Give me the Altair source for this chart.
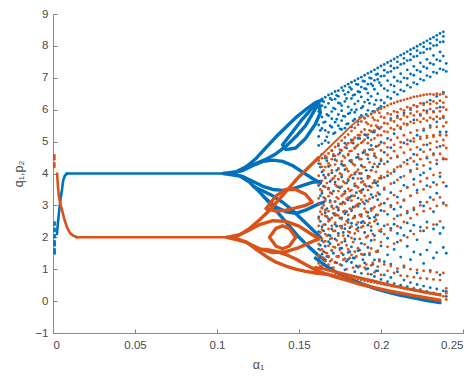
import altair as alt
import pandas as pd

BLUE = "#0072BD"
ORANGE = "#D95319"
FONT = "Liberation Sans"

# ---------------- line-like (dense) branches: (alpha values, y values, stroke width) ----------------
blue_curves = {
    "b_tr": ([0.0024, 0.0030, 0.0038, 0.0046, 0.0055, 0.0062, 0.0072, 0.0085],
             [2.10, 2.45, 2.85, 3.20, 3.50, 3.78, 3.93, 4.00], 2.6),
    "b_st": ([0.0085, 0.106], [4.00, 4.00], 2.4),
    "b_l1": ([0.104, 0.112, 0.118, 0.124, 0.130, 0.136, 0.142, 0.148, 0.154, 0.160, 0.164],
             [4.00, 4.06, 4.22, 4.48, 4.82, 5.15, 5.45, 5.75, 6.00, 6.22, 6.30], 3.4),
    "b_l2": ([0.118, 0.124, 0.130, 0.136, 0.142, 0.148, 0.154, 0.158, 0.162],
             [4.22, 4.32, 4.45, 4.62, 4.85, 5.15, 5.50, 5.85, 6.20], 3.4),
    "b_l3": ([0.140, 0.146, 0.152, 0.158, 0.162, 0.163, 0.160, 0.154, 0.148, 0.142, 0.140],
             [4.90, 5.30, 5.70, 6.05, 6.20, 5.90, 5.55, 5.10, 4.80, 4.75, 4.90], 3.4),
    "b_l4": ([0.108, 0.116, 0.122, 0.128, 0.134, 0.140, 0.146, 0.152, 0.158, 0.163],
             [4.00, 4.10, 4.25, 4.38, 4.42, 4.38, 4.25, 4.05, 3.85, 3.70], 3.4),
    "b_l5": ([0.108, 0.116, 0.122, 0.128, 0.134, 0.140, 0.146, 0.152, 0.158, 0.163],
             [4.00, 3.90, 3.75, 3.60, 3.50, 3.47, 3.52, 3.62, 3.72, 3.75], 3.4),
    "b_l6": ([0.104, 0.114, 0.120, 0.126, 0.132, 0.138, 0.144, 0.150, 0.156, 0.162, 0.166],
             [4.00, 3.92, 3.72, 3.42, 3.08, 2.72, 2.36, 2.00, 1.70, 1.42, 1.28], 3.4),
    "b_l7": ([0.122, 0.128, 0.134, 0.140, 0.146, 0.152, 0.158, 0.163],
             [3.60, 3.45, 3.30, 3.10, 2.85, 2.55, 2.25, 2.00], 3.4),
    "b_l8": ([0.130, 0.136, 0.142, 0.148, 0.154, 0.160, 0.165],
             [3.20, 2.95, 2.80, 2.75, 2.85, 3.00, 3.10], 3.4),
    "b_band": ([0.160, 0.166, 0.172, 0.180, 0.188, 0.196, 0.204, 0.212, 0.220, 0.228, 0.236],
               [1.35, 1.12, 0.92, 0.72, 0.55, 0.40, 0.28, 0.18, 0.10, 0.02, -0.05], 3.4),
}

orange_curves = {
    "o_tr": ([0.0025, 0.0030, 0.0035, 0.0045, 0.0055, 0.0070, 0.0085, 0.0104, 0.0125, 0.0146],
             [4.00, 3.60, 3.30, 3.05, 2.86, 2.55, 2.32, 2.13, 2.05, 2.00], 2.6),
    "o_st": ([0.0146, 0.108], [2.00, 2.00], 2.4),
    "o_l1": ([0.106, 0.114, 0.120, 0.126, 0.132, 0.138, 0.144, 0.150, 0.156, 0.162],
             [2.00, 2.08, 2.28, 2.55, 2.85, 3.20, 3.55, 3.90, 4.20, 4.50], 3.4),
    "o_arc": ([0.162, 0.168, 0.175, 0.182, 0.189],
              [4.50, 4.80, 5.15, 5.50, 5.80], 1.8),
    "o_l2": ([0.130, 0.136, 0.142, 0.148, 0.154, 0.158], [2.90, 3.30, 3.50, 3.50, 3.35, 3.10], 3.4),
    "o_l3": ([0.130, 0.136, 0.142, 0.148, 0.154, 0.158], [2.90, 2.82, 2.85, 2.92, 3.00, 3.10], 3.4),
    "o_l4": ([0.110, 0.118, 0.126, 0.134, 0.142, 0.150, 0.156, 0.162],
             [2.00, 2.18, 2.40, 2.52, 2.50, 2.35, 2.15, 1.95], 3.4),
    "o_l5": ([0.110, 0.118, 0.126, 0.134, 0.142, 0.150, 0.156, 0.162],
             [2.00, 1.84, 1.64, 1.52, 1.55, 1.68, 1.82, 1.95], 3.4),
    "o_l6": ([0.106, 0.118, 0.124, 0.130, 0.136, 0.142, 0.148, 0.154, 0.160, 0.166],
             [2.00, 1.85, 1.62, 1.40, 1.22, 1.10, 1.00, 0.93, 0.88, 0.85], 3.4),
    "o_l7": ([0.124, 0.130, 0.136, 0.142, 0.148, 0.154, 0.160, 0.165],
             [1.62, 1.62, 1.56, 1.46, 1.32, 1.15, 0.98, 0.88], 3.4),
    "o_l8": ([0.132, 0.136, 0.140, 0.144, 0.148, 0.144, 0.140, 0.136, 0.132],
             [2.00, 2.28, 2.36, 2.28, 2.00, 1.72, 1.64, 1.72, 2.00], 3.4),
    "o_band1": ([0.160, 0.166, 0.172, 0.180, 0.188, 0.196, 0.204, 0.212, 0.220, 0.228, 0.236],
                [0.92, 0.86, 0.76, 0.64, 0.52, 0.42, 0.33, 0.25, 0.17, 0.10, 0.03], 3.4),
    "o_band2": ([0.160, 0.166, 0.172, 0.180, 0.188, 0.196, 0.204, 0.212, 0.220, 0.228, 0.236],
                [1.05, 1.00, 0.92, 0.82, 0.72, 0.62, 0.52, 0.43, 0.35, 0.27, 0.20], 3.0),
}

# ---------------- scattered (chaotic) samples, one column per alpha ----------------
chaos_alpha = [0.162, 0.164, 0.166, 0.168, 0.170, 0.172, 0.174, 0.176, 0.178, 0.180,
               0.182, 0.184, 0.186, 0.188, 0.190, 0.192, 0.194, 0.196, 0.198, 0.200,
               0.202, 0.204, 0.206, 0.208, 0.210, 0.212, 0.214, 0.216, 0.218, 0.220,
               0.222, 0.224, 0.226, 0.228, 0.230, 0.232, 0.234, 0.236, 0.238]

blue_chaos = [
    [6.27, 5.94, 5.52, 5.16, 4.88, 4.31, 3.62, 3.07, 2.64, 2.18, 1.63, 1.31],
    [6.13, 6.34, 5.41, 5.77, 4.93, 4.05, 4.60, 2.93, 3.38, 1.47, 2.33, 1.90],
    [5.62, 6.39, 6.08, 5.03, 5.35, 3.21, 4.48, 2.77, 3.86, 1.72, 2.40, 1.12],
    [6.46, 5.81, 6.20, 5.29, 4.97, 4.22, 3.54, 2.58, 3.95, 2.07, 1.38, 1.86],
    [6.31, 5.72, 6.50, 5.45, 5.94, 3.37, 4.71, 2.98, 4.02, 2.26, 1.58, 1.03],
    [6.57, 6.02, 5.28, 6.33, 5.61, 4.43, 3.12, 3.73, 2.69, 1.95, 1.22, 2.41],
    [6.21, 6.60, 5.85, 5.50, 6.42, 3.58, 4.87, 2.85, 4.15, 1.41, 2.12, 1.77],
    [6.69, 5.66, 6.13, 5.97, 5.38, 4.29, 3.05, 3.89, 2.61, 2.35, 1.12, 1.66],
    [6.48, 6.74, 5.79, 5.42, 6.26, 4.95, 3.44, 2.74, 4.12, 1.88, 2.27, 0.98],
    [6.80, 6.09, 5.56, 6.55, 5.87, 3.77, 4.58, 3.17, 2.55, 1.52, 2.04, 1.31],
    [6.35, 6.86, 5.99, 5.46, 6.64, 4.36, 3.30, 5.05, 2.83, 2.44, 1.21, 1.70],
    [6.91, 6.18, 5.70, 6.47, 5.92, 3.61, 4.79, 2.66, 3.98, 1.35, 1.94, 0.92],
    [6.57, 6.97, 6.27, 5.63, 6.79, 4.51, 3.23, 5.10, 2.97, 2.30, 1.58, 1.06],
    [7.02, 6.40, 5.82, 6.71, 6.05, 3.84, 4.25, 2.71, 3.46, 1.81, 2.46, 0.87],
    [6.66, 7.08, 6.24, 5.74, 6.89, 4.68, 3.05, 5.22, 3.65, 1.46, 2.15, 1.20],
    [7.14, 6.52, 5.98, 6.80, 6.31, 3.92, 4.46, 2.78, 5.12, 2.38, 1.02, 1.68],
    [6.81, 7.19, 6.42, 5.87, 6.98, 4.88, 3.34, 4.10, 2.90, 1.90, 0.84, 2.21],
    [7.25, 6.64, 6.16, 6.92, 5.95, 3.72, 5.30, 4.55, 2.63, 1.29, 2.05, 0.77],
    [6.95, 7.31, 6.50, 6.02, 7.12, 4.21, 3.18, 5.45, 3.62, 2.42, 1.55, 0.95],
    [7.37, 6.76, 6.30, 7.05, 6.10, 4.98, 3.85, 2.84, 4.40, 1.73, 0.68, 2.18],
    [7.06, 7.42, 6.66, 6.21, 7.24, 3.50, 5.58, 4.66, 3.07, 1.24, 2.36, 0.82],
    [7.48, 6.91, 6.40, 7.17, 6.60, 4.37, 5.10, 2.72, 3.93, 1.97, 0.61, 1.45],
    [7.20, 7.53, 6.78, 6.35, 7.37, 5.72, 3.40, 4.81, 3.00, 2.28, 1.16, 0.74],
    [7.59, 7.02, 6.55, 7.30, 6.74, 4.06, 5.25, 2.88, 3.71, 1.62, 2.41, 0.55],
    [7.32, 7.65, 6.90, 6.48, 7.50, 5.80, 4.52, 3.26, 2.67, 1.85, 0.92, 2.12],
    [7.71, 7.13, 6.62, 7.42, 6.87, 3.88, 5.40, 4.24, 2.95, 1.38, 2.30, 0.50],
    [7.45, 7.76, 7.00, 6.58, 7.61, 4.96, 3.15, 5.90, 3.63, 2.06, 1.10, 0.66],
    [7.82, 7.25, 6.77, 7.54, 6.98, 4.42, 3.57, 5.55, 2.76, 1.72, 2.45, 0.45],
    [7.56, 7.88, 7.12, 6.70, 7.74, 6.00, 4.10, 3.30, 5.02, 1.30, 2.20, 0.58],
    [7.93, 7.36, 6.85, 7.66, 7.08, 3.82, 5.68, 4.60, 2.86, 2.38, 1.54, 0.40],
    [7.68, 7.99, 7.24, 6.80, 7.85, 5.20, 3.48, 6.10, 4.28, 1.92, 0.88, 0.52],
    [8.05, 7.47, 6.96, 7.78, 7.19, 4.75, 3.10, 5.82, 3.95, 1.46, 2.32, 0.36],
    [7.79, 8.10, 7.35, 6.92, 7.97, 5.35, 4.02, 6.20, 2.98, 2.20, 1.18, 0.47],
    [8.16, 7.58, 7.07, 7.90, 7.30, 4.48, 3.62, 5.96, 4.90, 1.60, 2.48, 0.30],
    [7.91, 8.22, 7.46, 7.03, 8.08, 5.50, 3.25, 6.30, 4.15, 1.84, 0.96, 0.42],
    [8.27, 7.70, 7.18, 8.01, 7.42, 4.62, 5.95, 3.72, 2.80, 2.26, 1.35, 0.26],
    [8.02, 8.33, 7.57, 7.15, 8.19, 5.62, 4.30, 6.42, 3.38, 1.52, 2.40, 0.38],
    [8.39, 7.81, 7.28, 8.12, 7.53, 4.85, 3.90, 6.08, 5.30, 2.12, 0.82, 0.22],
    [8.13, 8.44, 7.68, 7.25, 8.30, 5.75, 4.45, 6.55, 3.08, 1.68, 2.30, 0.32],
]

orange_chaos = [
    [4.41, 3.93, 3.66, 3.22, 3.05, 2.58, 2.36, 2.01, 1.79, 1.43, 1.18, 0.93],
    [4.48, 4.21, 3.77, 3.45, 2.91, 2.72, 2.24, 1.96, 1.62, 1.37, 1.08, 0.90],
    [4.20, 4.55, 3.58, 3.88, 3.14, 2.67, 2.85, 2.10, 1.88, 1.52, 1.25, 0.87],
    [4.63, 4.32, 3.98, 3.51, 3.29, 2.82, 2.50, 2.26, 1.73, 1.41, 1.14, 0.85],
    [4.45, 4.72, 3.81, 4.10, 3.37, 2.95, 2.61, 2.36, 1.97, 1.60, 1.30, 0.83],
    [4.83, 4.28, 4.55, 3.66, 3.92, 3.12, 2.74, 2.20, 2.46, 1.68, 1.20, 0.81],
    [4.60, 4.93, 4.15, 3.82, 3.45, 3.21, 2.68, 2.92, 2.05, 1.77, 1.38, 0.80],
    [5.03, 4.38, 4.72, 3.96, 3.59, 3.04, 3.30, 2.57, 2.28, 1.84, 1.50, 0.78],
    [4.82, 5.13, 4.25, 4.50, 3.70, 3.38, 2.83, 3.06, 2.40, 1.95, 1.33, 0.76],
    [5.22, 4.61, 4.95, 4.07, 3.82, 3.24, 3.52, 2.70, 2.18, 2.46, 1.62, 0.74],
    [4.98, 5.33, 4.42, 4.71, 3.95, 3.48, 3.15, 2.88, 2.34, 1.98, 1.45, 0.72],
    [5.43, 4.80, 5.12, 4.26, 3.68, 4.02, 3.30, 2.62, 2.95, 2.12, 1.55, 0.70],
    [5.20, 5.53, 4.60, 4.90, 4.12, 3.56, 3.84, 3.05, 2.47, 2.20, 1.66, 0.68],
    [5.63, 4.96, 5.30, 4.45, 4.00, 3.72, 3.18, 3.40, 2.65, 2.31, 1.47, 0.66],
    [5.38, 5.73, 5.06, 4.72, 4.20, 3.66, 2.90, 3.30, 2.45, 1.78, 1.05, 0.64],
    [5.80, 5.22, 5.55, 4.58, 4.95, 3.85, 3.12, 2.66, 3.48, 2.04, 0.85, 0.62],
    [5.50, 5.86, 5.05, 4.75, 5.32, 4.10, 2.84, 3.57, 2.33, 1.65, 1.12, 0.60],
    [5.92, 5.35, 5.68, 4.62, 5.10, 3.78, 4.30, 2.95, 2.50, 1.92, 0.90, 0.58],
    [5.66, 5.98, 5.20, 4.86, 5.44, 4.22, 3.40, 3.75, 2.70, 1.58, 1.08, 0.56],
    [6.03, 5.45, 5.78, 4.72, 5.20, 3.92, 4.45, 3.05, 2.25, 1.85, 0.82, 0.54],
    [5.75, 6.08, 5.32, 4.95, 5.58, 4.30, 3.55, 2.82, 3.88, 2.10, 1.15, 0.52],
    [6.13, 5.56, 5.88, 4.82, 5.30, 4.05, 4.58, 3.20, 2.40, 1.70, 0.95, 0.50],
    [5.85, 6.18, 5.42, 5.05, 5.67, 4.48, 3.68, 2.95, 4.00, 2.22, 1.10, 0.48],
    [6.21, 5.63, 5.95, 4.90, 5.38, 4.12, 4.70, 3.32, 2.58, 1.80, 0.88, 0.46],
    [5.92, 6.25, 5.50, 5.12, 5.75, 4.55, 3.80, 3.08, 4.20, 2.35, 1.02, 0.44],
    [6.28, 5.70, 6.02, 4.98, 5.45, 4.22, 4.82, 3.45, 2.70, 1.90, 0.80, 0.42],
    [5.98, 6.31, 5.56, 5.20, 5.82, 4.65, 3.92, 3.18, 4.35, 2.48, 1.06, 0.40],
    [6.34, 5.77, 6.08, 5.05, 5.52, 4.30, 4.92, 3.55, 2.82, 2.00, 0.78, 0.38],
    [6.05, 6.37, 5.62, 5.28, 5.88, 4.75, 4.05, 3.30, 4.48, 2.60, 1.00, 0.36],
    [6.40, 5.82, 6.14, 5.10, 5.58, 4.38, 5.00, 3.65, 2.92, 2.10, 0.75, 0.34],
    [6.10, 6.42, 5.68, 5.35, 5.94, 4.82, 4.15, 3.40, 4.58, 2.72, 0.98, 0.32],
    [6.44, 5.86, 6.20, 5.15, 5.62, 4.45, 5.08, 3.75, 3.00, 2.20, 0.72, 0.30],
    [6.15, 6.46, 5.72, 5.40, 5.98, 4.90, 4.25, 3.50, 4.68, 2.82, 0.95, 0.28],
    [6.48, 5.90, 6.24, 5.18, 5.66, 4.52, 5.12, 3.85, 3.10, 2.30, 0.70, 0.26],
    [6.18, 6.49, 5.75, 5.44, 6.02, 4.95, 4.35, 3.58, 4.75, 2.90, 0.92, 0.24],
    [6.47, 5.92, 6.26, 5.20, 5.70, 4.58, 5.15, 3.95, 3.18, 2.40, 0.68, 0.22],
    [6.20, 6.50, 5.78, 5.46, 6.05, 5.00, 4.42, 3.65, 4.82, 2.98, 0.90, 0.20],
    [6.48, 5.95, 6.28, 5.22, 5.72, 4.62, 5.20, 4.02, 3.25, 2.50, 0.66, 0.18],
    [6.22, 6.50, 5.80, 5.48, 6.08, 5.05, 4.48, 3.72, 4.88, 3.05, 0.88, 0.15],
]

# extra (in-between) columns where the cloud is densest
extra_alpha = [0.163, 0.165, 0.167, 0.169, 0.171, 0.173, 0.175, 0.177, 0.179, 0.181,
               0.183, 0.185, 0.187, 0.189, 0.191, 0.193, 0.195, 0.197, 0.199]
blue_extra = [
    [6.10, 5.35, 4.20, 3.30, 2.50, 1.75], [6.25, 5.60, 3.95, 3.60, 2.20, 1.55],
    [5.85, 5.15, 4.40, 2.90, 2.65, 1.40], [6.35, 5.50, 3.75, 3.15, 2.05, 1.80],
    [6.05, 5.25, 4.55, 3.45, 2.75, 1.50], [6.45, 5.70, 4.10, 2.95, 2.35, 1.20],
    [6.20, 5.40, 4.65, 3.55, 2.60, 1.65], [6.60, 5.80, 4.25, 3.10, 2.15, 1.45],
    [6.35, 5.55, 4.80, 3.70, 2.80, 1.25], [6.70, 5.90, 4.40, 3.25, 2.30, 1.55],
    [6.45, 5.65, 4.95, 3.85, 2.95, 1.35], [6.80, 6.00, 4.50, 3.40, 2.40, 1.10],
    [6.55, 5.75, 5.10, 4.00, 3.05, 1.60], [6.90, 6.10, 4.65, 3.50, 2.50, 1.30],
    [6.65, 5.85, 5.20, 4.10, 3.15, 1.00], [7.00, 6.20, 4.75, 3.60, 2.60, 1.45],
    [6.75, 5.95, 5.30, 4.20, 3.25, 1.15], [7.10, 6.30, 4.85, 3.70, 2.70, 0.95],
    [6.85, 6.05, 5.40, 4.30, 3.35, 1.30],
]
orange_extra = [
    [4.30, 3.50, 2.80, 2.15, 1.60, 1.10], [4.10, 3.25, 3.00, 2.40, 1.85, 1.35],
    [4.50, 3.70, 2.65, 2.05, 1.50, 1.00], [4.25, 3.40, 3.10, 2.55, 1.95, 1.25],
    [4.60, 3.85, 2.90, 2.20, 1.70, 1.05], [4.40, 3.60, 3.25, 2.70, 1.90, 1.40],
    [4.75, 4.00, 3.05, 2.35, 1.60, 1.15], [4.55, 3.75, 3.35, 2.80, 2.05, 1.30],
    [4.90, 4.15, 3.20, 2.50, 1.75, 1.00], [4.70, 3.90, 3.45, 2.90, 2.15, 1.35],
    [5.05, 4.30, 3.30, 2.60, 1.85, 1.05], [4.85, 4.05, 3.60, 3.00, 2.25, 1.40],
    [5.20, 4.45, 3.45, 2.70, 1.95, 1.10], [5.00, 4.20, 3.75, 3.10, 2.35, 1.45],
    [5.60, 4.60, 3.60, 2.80, 2.00, 1.15], [5.35, 4.35, 3.90, 3.20, 2.45, 1.50],
    [5.75, 4.75, 3.70, 2.90, 2.10, 1.20], [5.50, 4.50, 4.05, 3.30, 2.55, 1.55],
    [5.90, 4.90, 3.85, 3.00, 2.20, 1.25],
]

# sparse columns at the very ends of the sweep
blue_edge_alpha = [0.0010] * 12 + [0.2398] * 7
blue_edge_q = [1.50, 1.56, 1.62, 1.75, 1.81, 1.87, 2.00, 2.06, 2.20, 2.26, 2.40, 2.46,
               7.45, 7.20, 5.30, 3.60, 1.50, 0.30, 0.15]
orange_edge_alpha = [0.0008] * 6 + [0.2398] * 10
orange_edge_p = [4.20, 4.26, 4.32, 4.45, 4.51, 4.57,
                 6.40, 6.00, 5.60, 5.20, 4.80, 4.45, 3.00, 0.40, 0.25, 0.05]

x_ticks = [0, 0.05, 0.10, 0.15, 0.20, 0.25]
y_ticks = [-1, 0, 1, 2, 3, 4, 5, 6, 7, 8, 9]


def curves_df(curves):
    rows = []
    for name, (a_list, v_list, w) in curves.items():
        for k, (a, v) in enumerate(zip(a_list, v_list)):
            rows.append({"alpha": a, "value": v, "curve": name, "k": k, "w": w})
    return pd.DataFrame(rows)


def points_df(column_sets, edge_a, edge_v):
    rows = []
    for col_alpha, cols in column_sets:
        for a, col in zip(col_alpha, cols):
            for v in col:
                rows.append({"alpha": a, "value": v})
    for a, v in zip(edge_a, edge_v):
        rows.append({"alpha": a, "value": v})
    return pd.DataFrame(rows)


blue_lines = curves_df(blue_curves)
orange_lines = curves_df(orange_curves)
blue_pts = points_df([(chaos_alpha, blue_chaos), (extra_alpha, blue_extra)],
                     blue_edge_alpha, blue_edge_q)
orange_pts = points_df([(chaos_alpha, orange_chaos), (extra_alpha, orange_extra)],
                       orange_edge_alpha, orange_edge_p)

xs = alt.Scale(domain=[0, 0.25], nice=False, zero=False)
ys = alt.Scale(domain=[-1, 9], nice=False, zero=False)
AX = "#8c8c8c"
LAB = "#4a4a4a"

x_main = alt.Axis(orient="bottom", values=x_ticks, format="~g", ticks=False, tickSize=0,
                  domain=True, domainColor=AX, grid=False, labelPadding=6,
                  labelFont=FONT, labelFontSize=11.5, labelColor=LAB,
                  title="α₁", titleFont=FONT, titleFontSize=12.5, titleFontWeight="normal",
                  titleColor=LAB, titlePadding=8)
y_main = alt.Axis(orient="left", values=y_ticks, format="d", ticks=False, tickSize=0,
                  domain=True, domainColor=AX, grid=False, labelPadding=5,
                  labelFont=FONT, labelFontSize=11.5, labelColor=LAB,
                  title="q₁,p₂", titleFont=FONT, titleFontSize=12.5, titleFontWeight="normal",
                  titleColor=LAB, titlePadding=9)
# inward ticks: axes on the opposite side, shifted onto the visible edges
x_tick = alt.Axis(orient="top", offset=-319, values=x_ticks, ticks=True, tickSize=4,
                  tickWidth=1, tickColor="#808080", domain=False, labels=False, grid=False,
                  title=None)
y_tick = alt.Axis(orient="right", offset=-410, values=y_ticks, ticks=True, tickSize=4,
                  tickWidth=1, tickColor="#808080", domain=False, labels=False, grid=False,
                  title=None)


def line_layer(df, color, xa, ya):
    return alt.Chart(df).mark_line(color=color, strokeCap="round",
                                   strokeJoin="round").encode(
        x=alt.X("alpha:Q", scale=xs, axis=xa),
        y=alt.Y("value:Q", scale=ys, axis=ya),
        size=alt.Size("w:Q", scale=None, legend=None),
        detail="curve:N",
        order="k:Q",
    )


def point_layer(df, color, xa, ya):
    return alt.Chart(df).mark_circle(color=color, size=8, opacity=1).encode(
        x=alt.X("alpha:Q", scale=xs, axis=xa),
        y=alt.Y("value:Q", scale=ys, axis=ya),
    )


chart = alt.layer(
    line_layer(blue_lines, BLUE, x_main, y_main),
    point_layer(blue_pts, BLUE, x_tick, y_tick),
    line_layer(orange_lines, ORANGE, None, None),
    point_layer(orange_pts, ORANGE, None, None),
).resolve_axis(x="independent", y="independent").properties(
    width=410,
    height=319,
    autosize=alt.AutoSizeParams(type="none"),
    padding={"left": 45, "top": 6, "right": 4, "bottom": 45},
    background="white",
).configure_view(stroke=None)

chart.save("out.html", embed_options={"renderer": "svg", "actions": False})
